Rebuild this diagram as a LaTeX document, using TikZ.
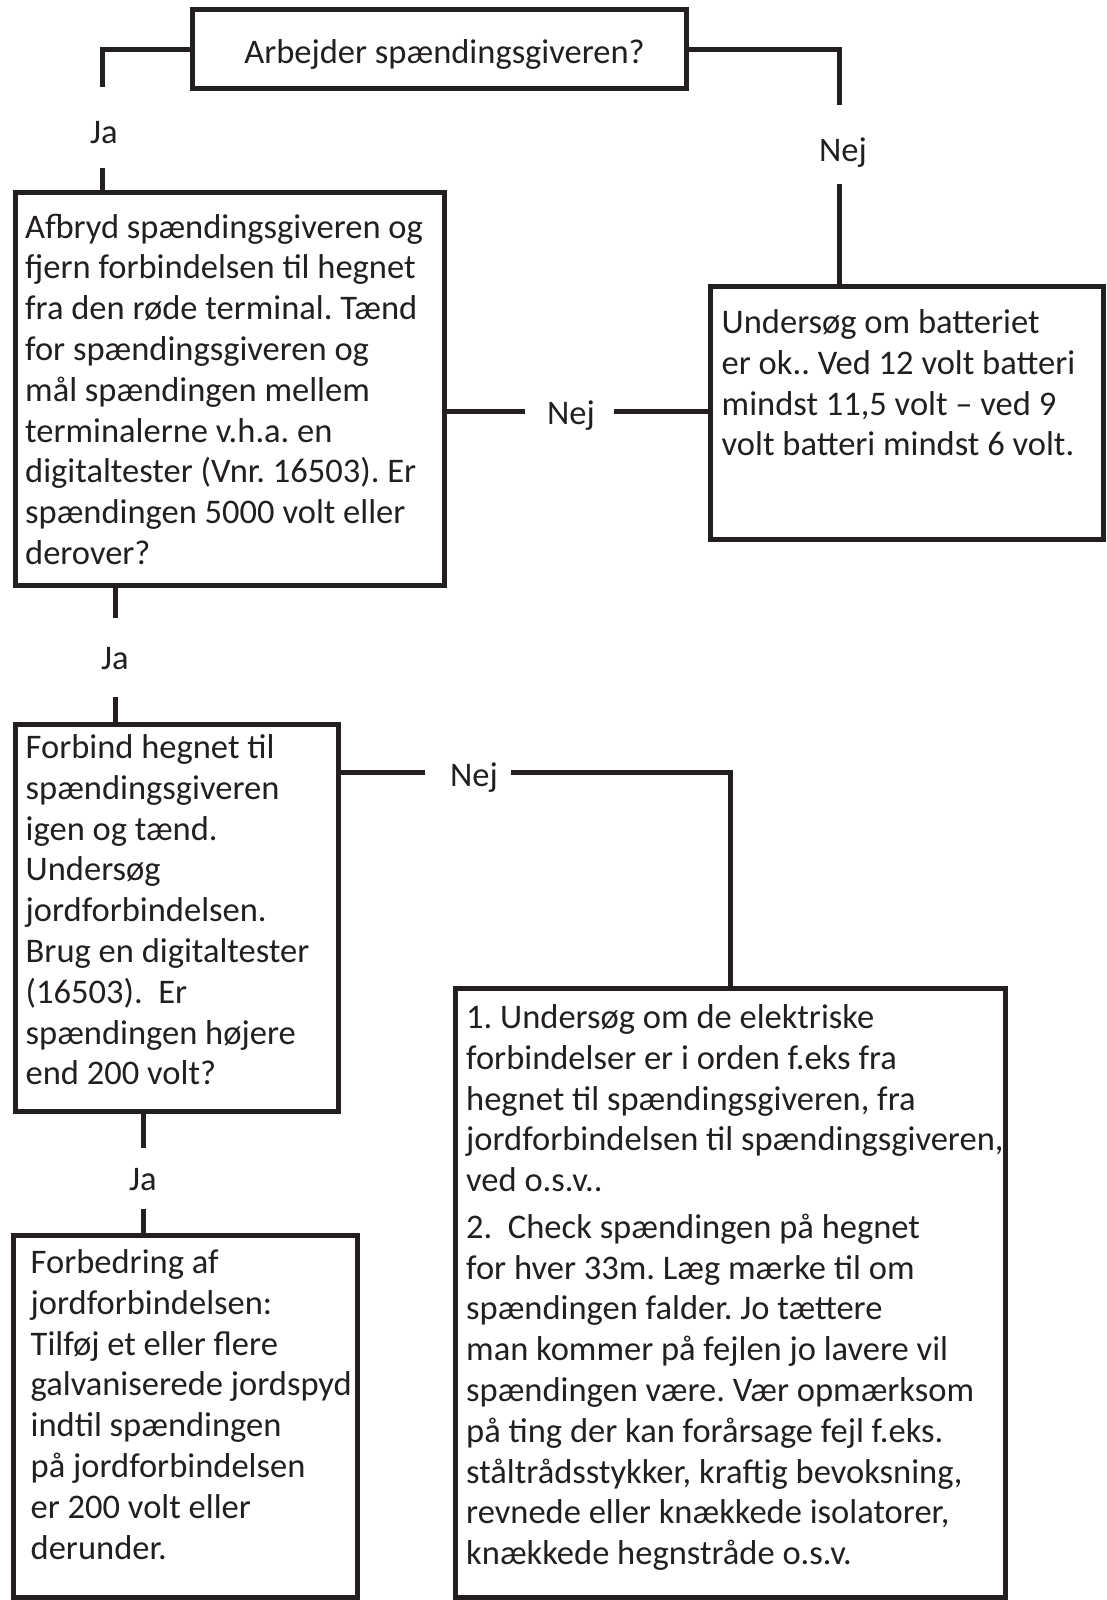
\documentclass[tikz,border=0pt]{standalone}
\usepackage{fontspec}
\setmainfont{Carlito}
\definecolor{ink}{HTML}{231F20}
\begin{document}
\begin{tikzpicture}[x=1pt,y=-1pt,
  box/.style={draw=ink,line width=5pt,inner sep=0pt,outer sep=0pt,anchor=north west,fill=white},
  txt/.style={inner sep=0pt,anchor=base west,text=ink,font=\fontsize{34.5pt}{40.8pt}\selectfont},
  lbl/.style={inner sep=0pt,text=ink,font=\fontsize{34.5pt}{40.8pt}\selectfont},
  conn/.style={draw=ink,line width=5pt}]
\useasboundingbox (0,0) rectangle (1107,1600);
\newcommand{\boxtext}[1]{\parbox[t]{700pt}{\frenchspacing\fontsize{34.5pt}{40.8pt}\selectfont #1}}
% boxes
\node[box,minimum width=494pt,minimum height=78.5pt] (b0) at (192.5,10) {};
\node[box,minimum width=429pt,minimum height=393pt] (b1) at (15,192) {};
\node[box,minimum width=393pt,minimum height=253pt] (bR) at (710,286.5) {};
\node[box,minimum width=323pt,minimum height=387pt] (b2) at (15.5,724) {};
\node[box,minimum width=343.5pt,minimum height=362pt] (b3) at (13.5,1235) {};
\node[box,minimum width=550pt,minimum height=609pt] (b4) at (455.5,988) {};
% texts
\node[txt,anchor=base] (t0) at (444.5,64) {Arbejder spændingsgiveren?};
\node[txt] (t1) at (25,238) {\boxtext{Afbryd spændingsgiveren og\\
fjern forbindelsen til hegnet\\
fra den røde terminal. Tænd\\
for spændingsgiveren og\\
mål spændingen mellem\\
terminalerne v.h.a. en\\
digitaltester (Vnr. 16503). Er\\
spændingen 5000 volt eller\\
derover?}};
\node[txt] (tR) at (721.5,333.5) {\boxtext{Undersøg om batteriet\\
er ok.. Ved 12 volt batteri\\
mindst 11,5 volt – ved 9\\
volt batteri mindst 6 volt.}};
\node[txt] (t2) at (25.5,758.5) {\boxtext{Forbind hegnet til\\
spændingsgiveren\\
igen og tænd.\\
Undersøg\\
jordforbindelsen.\\
Brug en digitaltester\\
(16503).\ \ Er\\
spændingen højere\\
end 200 volt?}};
\node[txt] (t3) at (30.5,1273.5) {\boxtext{Forbedring af\\
jordforbindelsen:\\
Tilføj et eller flere\\
galvaniserede jordspyd\\
indtil spændingen\\
på jordforbindelsen\\
er 200 volt eller\\
derunder.}};
\node[txt] (t4) at (466,1028.5) {\boxtext{1. Undersøg om de elektriske\\
forbindelser er i orden f.eks fra\\
hegnet til spændingsgiveren, fra\\
jordforbindelsen til spændingsgiveren,\\
ved o.s.v..\\[5.8pt]
2.\ \ Check spændingen på hegnet\\
for hver 33m. Læg mærke til om\\
spændingen falder. Jo tættere\\
man kommer på fejlen jo lavere vil\\
spændingen være. Vær opmærksom\\
på ting der kan forårsage fejl f.eks.\\
ståltrådsstykker, kraftig bevoksning,\\
revnede eller knækkede isolatorer,\\
knækkede hegnstråde o.s.v.}};
% labels
\node[lbl] (ja1) at (104,133) {Ja};
\node[lbl] (nej1) at (843,153) {Nej};
\node[lbl] (nej2) at (571,416) {Nej};
\node[lbl] (ja2) at (115,659) {Ja};
\node[lbl] (nej3) at (474,778) {Nej};
\node[lbl] (ja3) at (143,1180) {Ja};
% connector gap ends
\coordinate (c1a) at (102,87);
\coordinate (c1b) at (102,168);
\coordinate (c2a) at (839,105);
\coordinate (c2b) at (839,184);
\coordinate (c3a) at (525,411);
\coordinate (c3b) at (614,411);
\coordinate (c4a) at (115,618);
\coordinate (c4b) at (115,697);
\coordinate (c5a) at (425,772);
\coordinate (c5b) at (511,772);
\coordinate (c6a) at (143,1148);
\coordinate (c6b) at (143,1209);
% connectors
\draw[conn] (b0.west) -| (c1a);
\draw[conn] (c1b) -- (c1b |- b1.north);
\draw[conn] (b0.east) -| (c2a);
\draw[conn] (c2b) -- (c2b |- bR.north);
\draw[conn] (c3a -| b1.east) -- (c3a);
\draw[conn] (c3b) -- (c3b -| bR.west);
\draw[conn] (c4a |- b1.south) -- (c4a);
\draw[conn] (c4b) -- (c4b |- b2.north);
\draw[conn] (c5a -| b2.east) -- (c5a);
\draw[conn] (c5b) -| (b4.north);
\draw[conn] (c6a |- b2.south) -- (c6a);
\draw[conn] (c6b) -- (c6b |- b3.north);
\end{tikzpicture}
\end{document}
